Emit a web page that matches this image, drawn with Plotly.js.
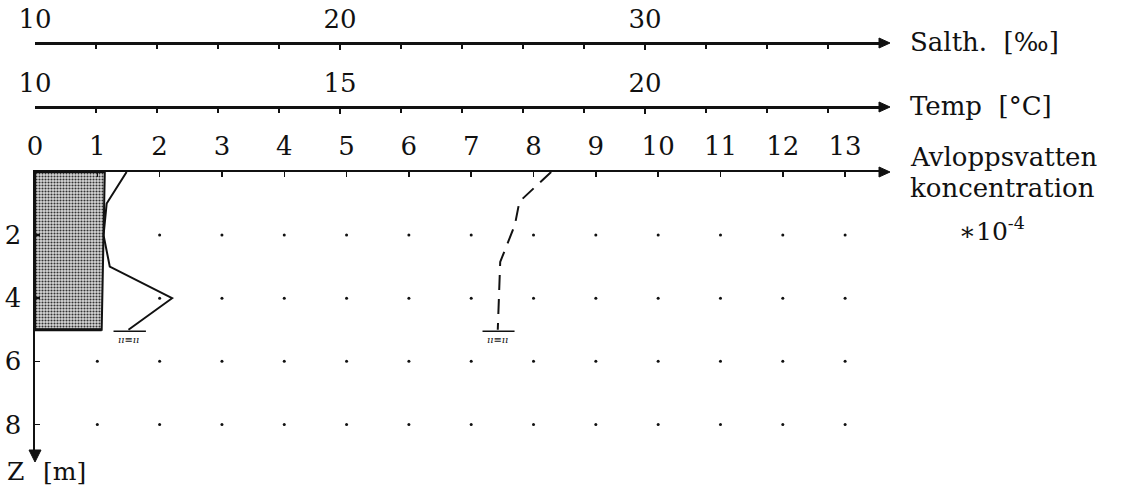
<!DOCTYPE html>
<html>
<head>
<meta charset="utf-8">
<script src="https://cdn.plot.ly/plotly-3.0.1.min.js"></script>
<style>html,body{margin:0;padding:0;background:#fff;}#chart{width:1127px;height:486px;}</style>
</head>
<body>
<div id="chart"></div>
<script>
// ---- data ----
const concTicks = [0,1,2,3,4,5,6,7,8,9,10,11,12,13];
const depthTicks = [2,4,6,8];
const salLabels = [10,20,30];
const tempLabels = [10,15,20];

// shaded region (right edge, concentration units)
const shadeDepth = [0, 5];
const shadeRight = [1.12, 1.07];

// solid line: avloppsvatten concentration (*10^-4)
const concDepth  = [0, 1, 2, 3, 4, 5];
const concValues = [1.47, 1.15, 1.10, 1.20, 2.20, 1.50];

// dashed line: salinity (‰)
const salDepth  = [0, 0.94, 1.68, 2.85, 5.0];
const salValues = [26.92, 25.88, 25.73, 25.25, 25.17];

const bottomDepth = 5.05;

// ---- geometry ----
const W = 1127, H = 486;
const mL = 35, mR = 247, mT = 43, mB = 30;
const plotH = H - mT - mB;
const concAxisY = 172, tempAxisY = 107, salAxisY = 43;
const yTop = (H - mB - concAxisY) / plotH;
const tempPos = (H - mB - tempAxisY) / plotH;
const plotW = W - mL - mR;
const px2paperX = p => (p - mL) / plotW;
const px2paperY = p => (H - mB - p) / plotH;

const ink = '#111';
const fontFam = 'DejaVu Serif, Liberation Serif, serif';

// grid dots
const dotX = [], dotY = [];
depthTicks.forEach(z => concTicks.forEach(c => { if (c > 0) { dotX.push(c); dotY.push(z); } }));

const traces = [
  { x: dotX, y: dotY, xaxis: 'x', yaxis: 'y', mode: 'markers', type: 'scatter',
    marker: { size: 3, color: ink }, hoverinfo: 'skip' },
  { x: [0, shadeRight[0], shadeRight[1], 0, 0],
    y: [shadeDepth[0], shadeDepth[0], shadeDepth[1], shadeDepth[1], shadeDepth[0]],
    xaxis: 'x', yaxis: 'y', mode: 'lines', type: 'scatter', fill: 'toself',
    fillcolor: '#b8b8b8',
    fillpattern: { shape: '.', bgcolor: '#d9d9d9', fgcolor: '#333333', size: 3, solidity: 0.4 },
    line: { color: ink, width: 2 }, hoverinfo: 'skip' },
  { x: concValues, y: concDepth, xaxis: 'x', yaxis: 'y', mode: 'lines', type: 'scatter',
    line: { color: ink, width: 2 } },
  { x: salValues, y: salDepth, xaxis: 'x2', yaxis: 'y', mode: 'lines', type: 'scatter',
    line: { color: ink, width: 2, dash: '15px,9px' } }
];

const concEnd = concValues[concValues.length - 1];
const salEnd = salValues[salValues.length - 1];

// arrowheads as filled paper-space triangles
const P = q => px2paperX(q[0]) + ' ' + px2paperY(q[1]);
function triRight(tipPx, yPx) {
  return { type: 'path', xref: 'paper', yref: 'paper',
    path: 'M ' + P([tipPx, yPx]) + ' L ' + P([tipPx - 11, yPx - 5]) + ' L ' + P([tipPx - 11, yPx + 5]) + ' Z',
    fillcolor: ink, line: { color: ink, width: 1 } };
}
function triDown(xPx, tipPx) {
  return { type: 'path', xref: 'paper', yref: 'paper',
    path: 'M ' + P([xPx, tipPx]) + ' L ' + P([xPx - 6, tipPx - 12]) + ' L ' + P([xPx + 6, tipPx - 12]) + ' Z',
    fillcolor: ink, line: { color: ink, width: 1 } };
}

const shapes = [
  { type: 'line', xref: 'x', yref: 'y', x0: 0, x1: shadeRight[1], y0: shadeDepth[1], y1: shadeDepth[1],
    line: { color: ink, width: 3 } },
  { type: 'line', xref: 'x', yref: 'y', x0: concEnd - 0.24, x1: concEnd + 0.28, y0: bottomDepth, y1: bottomDepth,
    line: { color: ink, width: 1.5 } },
  { type: 'line', xref: 'x2', yref: 'y', x0: salEnd - 0.5, x1: salEnd + 0.55, y0: bottomDepth, y1: bottomDepth,
    line: { color: ink, width: 1.5 } },
  { type: 'line', xref: 'paper', yref: 'paper', x0: 1, x1: px2paperX(882), y0: 1, y1: 1, line: { color: ink, width: 2.5 } },
  { type: 'line', xref: 'paper', yref: 'paper', x0: 1, x1: px2paperX(882), y0: tempPos, y1: tempPos, line: { color: ink, width: 2.5 } },
  { type: 'line', xref: 'paper', yref: 'paper', x0: 1, x1: px2paperX(882), y0: yTop, y1: yTop, line: { color: ink, width: 2.5 } },
  { type: 'line', xref: 'paper', yref: 'paper', x0: 0, x1: 0, y0: 0, y1: px2paperY(452), line: { color: ink, width: 2.5 } },
  triRight(890, salAxisY),
  triRight(890, tempAxisY),
  triRight(890, concAxisY),
  triDown(35, 462)
];

function label(text, xpx, ypx, size, anchor) {
  return { xref: 'paper', yref: 'paper', x: px2paperX(xpx), y: px2paperY(ypx), text: text,
    showarrow: false, xanchor: anchor || 'left', yanchor: 'middle',
    font: { family: fontFam, size: size, color: ink } };
}

const annotations = [
  label('Salth.  [‰]', 908, 42, 26),
  label('Temp  [°C]', 908, 106, 26),
  label('Avloppsvatten', 908, 157, 26),
  label('koncentration', 908, 188, 26),
  label('∗10<sup>-4</sup>', 992, 229, 25, 'center'),
  label('Z', 5, 471, 25),
  label('[m]', 41, 471, 25),
  { xref: 'x', yref: 'y', x: concEnd, y: bottomDepth, text: '<i>ıı≡ıı</i>', showarrow: false,
    yanchor: 'top', yshift: -1, font: { family: fontFam, size: 10, color: ink } },
  { xref: 'x2', yref: 'y', x: salEnd, y: bottomDepth, text: '<i>ıı≡ıı</i>', showarrow: false,
    yanchor: 'top', yshift: -1, font: { family: fontFam, size: 10, color: ink } }
];

const tickFont = { family: fontFam, size: 26, color: ink };
const axisCommon = { showgrid: false, zeroline: false, showline: true, linewidth: 2.5, linecolor: ink,
  ticks: 'inside', ticklen: 5, tickwidth: 1.5, tickcolor: ink, fixedrange: true };

const layout = {
  width: W, height: H,
  margin: { l: mL, r: mR, t: mT, b: mB, pad: 0 },
  paper_bgcolor: '#fff', plot_bgcolor: '#fff',
  showlegend: false,
  font: { family: fontFam, color: ink },
  xaxis: Object.assign({}, axisCommon, {
    range: [0, 13.56], side: 'top', anchor: 'y',
    tickmode: 'array', tickvals: concTicks, ticktext: concTicks.map(String),
    tickfont: tickFont, ticklabelstandoff: 4
  }),
  xaxis2: Object.assign({}, axisCommon, {
    range: [10, 37.7], overlaying: 'x', anchor: 'free', position: 1, side: 'top',
    tickmode: 'array', tickvals: salLabels, ticktext: salLabels.map(String),
    tickfont: tickFont, ticklabelstandoff: 4,
    minor: { dtick: 2, tick0: 10, ticks: 'inside', ticklen: 4, tickwidth: 1.5, tickcolor: ink, showgrid: false }
  }),
  xaxis3: Object.assign({}, axisCommon, {
    range: [10, 23.85], overlaying: 'x', anchor: 'free', position: tempPos, side: 'top',
    tickmode: 'array', tickvals: tempLabels, ticktext: tempLabels.map(String),
    tickfont: tickFont, ticklabelstandoff: 4,
    minor: { dtick: 1, tick0: 10, ticks: 'inside', ticklen: 4, tickwidth: 1.5, tickcolor: ink, showgrid: false }
  }),
  yaxis: Object.assign({}, axisCommon, {
    domain: [0, yTop], range: [9.0, 0], anchor: 'x', side: 'left',
    tickmode: 'array', tickvals: depthTicks, ticktext: depthTicks.map(String),
    tickfont: tickFont, ticklabelstandoff: 6
  }),
  shapes: shapes,
  annotations: annotations
};

// invisible trace so the temperature axis is drawn
traces.push({ x: [tempLabels[0]], y: [0], xaxis: 'x3', yaxis: 'y', mode: 'markers', type: 'scatter',
  marker: { size: 1, opacity: 0 }, hoverinfo: 'skip' });

Plotly.newPlot('chart', traces, layout, { displayModeBar: false, staticPlot: true });
</script>
</body>
</html>
